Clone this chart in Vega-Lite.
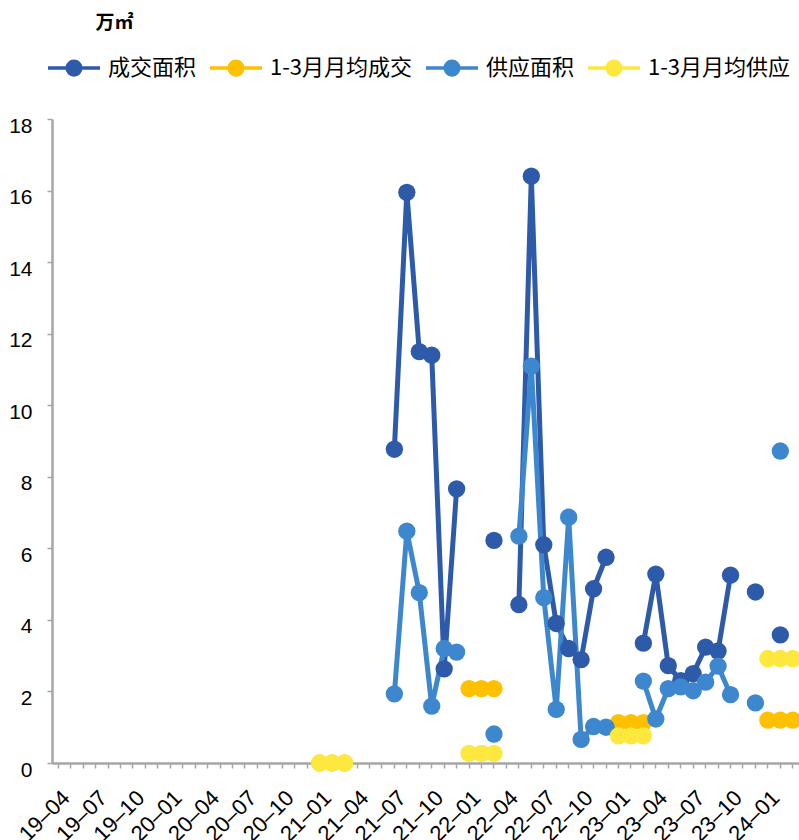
{
  "$schema": "https://vega.github.io/schema/vega-lite/v6.json",
  "width": 747,
  "height": 644,
  "autosize": {"type": "none"},
  "padding": {"left": 52, "top": 119, "right": 0, "bottom": 77},
  "background": "white",
  "config": {"view": {"stroke": null}},
  "data": {"values": [
    {"m": "21-07", "s": "成交面积", "v": 8.77},
    {"m": "21-08", "s": "成交面积", "v": 15.95},
    {"m": "21-09", "s": "成交面积", "v": 11.5},
    {"m": "21-10", "s": "成交面积", "v": 11.4},
    {"m": "21-11", "s": "成交面积", "v": 2.63},
    {"m": "21-12", "s": "成交面积", "v": 7.66},
    {"m": "22-01", "s": "成交面积", "v": null},
    {"m": "22-03", "s": "成交面积", "v": 6.22},
    {"m": "22-04", "s": "成交面积", "v": null},
    {"m": "22-05", "s": "成交面积", "v": 4.43},
    {"m": "22-06", "s": "成交面积", "v": 16.4},
    {"m": "22-07", "s": "成交面积", "v": 6.1},
    {"m": "22-08", "s": "成交面积", "v": 3.9},
    {"m": "22-09", "s": "成交面积", "v": 3.2},
    {"m": "22-10", "s": "成交面积", "v": 2.89},
    {"m": "22-11", "s": "成交面积", "v": 4.87},
    {"m": "22-12", "s": "成交面积", "v": 5.75},
    {"m": "23-01", "s": "成交面积", "v": null},
    {"m": "23-03", "s": "成交面积", "v": 3.35},
    {"m": "23-04", "s": "成交面积", "v": 5.28},
    {"m": "23-05", "s": "成交面积", "v": 2.72},
    {"m": "23-06", "s": "成交面积", "v": 2.3},
    {"m": "23-07", "s": "成交面积", "v": 2.5},
    {"m": "23-08", "s": "成交面积", "v": 3.24},
    {"m": "23-09", "s": "成交面积", "v": 3.13},
    {"m": "23-10", "s": "成交面积", "v": 5.25},
    {"m": "23-11", "s": "成交面积", "v": null},
    {"m": "23-12", "s": "成交面积", "v": 4.78},
    {"m": "24-01", "s": "成交面积", "v": null},
    {"m": "24-02", "s": "成交面积", "v": 3.58},
    {"m": "21-01", "s": "1-3月月均成交", "v": 0},
    {"m": "21-02", "s": "1-3月月均成交", "v": 0},
    {"m": "21-03", "s": "1-3月月均成交", "v": 0},
    {"m": "21-04", "s": "1-3月月均成交", "v": null},
    {"m": "22-01", "s": "1-3月月均成交", "v": 2.08},
    {"m": "22-02", "s": "1-3月月均成交", "v": 2.08},
    {"m": "22-03", "s": "1-3月月均成交", "v": 2.08},
    {"m": "22-04", "s": "1-3月月均成交", "v": null},
    {"m": "23-01", "s": "1-3月月均成交", "v": 1.13},
    {"m": "23-02", "s": "1-3月月均成交", "v": 1.13},
    {"m": "23-03", "s": "1-3月月均成交", "v": 1.13},
    {"m": "23-04", "s": "1-3月月均成交", "v": null},
    {"m": "24-01", "s": "1-3月月均成交", "v": 1.2},
    {"m": "24-02", "s": "1-3月月均成交", "v": 1.2},
    {"m": "24-03", "s": "1-3月月均成交", "v": 1.2},
    {"m": "21-07", "s": "供应面积", "v": 1.93},
    {"m": "21-08", "s": "供应面积", "v": 6.48},
    {"m": "21-09", "s": "供应面积", "v": 4.76},
    {"m": "21-10", "s": "供应面积", "v": 1.59},
    {"m": "21-11", "s": "供应面积", "v": 3.2},
    {"m": "21-12", "s": "供应面积", "v": 3.1},
    {"m": "22-01", "s": "供应面积", "v": null},
    {"m": "22-03", "s": "供应面积", "v": 0.81},
    {"m": "22-04", "s": "供应面积", "v": null},
    {"m": "22-05", "s": "供应面积", "v": 6.34},
    {"m": "22-06", "s": "供应面积", "v": 11.09},
    {"m": "22-07", "s": "供应面积", "v": 4.62},
    {"m": "22-08", "s": "供应面积", "v": 1.5},
    {"m": "22-09", "s": "供应面积", "v": 6.87},
    {"m": "22-10", "s": "供应面积", "v": 0.66},
    {"m": "22-11", "s": "供应面积", "v": 1.02},
    {"m": "22-12", "s": "供应面积", "v": 1.0},
    {"m": "23-01", "s": "供应面积", "v": null},
    {"m": "23-03", "s": "供应面积", "v": 2.29},
    {"m": "23-04", "s": "供应面积", "v": 1.23},
    {"m": "23-05", "s": "供应面积", "v": 2.08},
    {"m": "23-06", "s": "供应面积", "v": 2.13},
    {"m": "23-07", "s": "供应面积", "v": 2.02},
    {"m": "23-08", "s": "供应面积", "v": 2.26},
    {"m": "23-09", "s": "供应面积", "v": 2.71},
    {"m": "23-10", "s": "供应面积", "v": 1.91},
    {"m": "23-11", "s": "供应面积", "v": null},
    {"m": "23-12", "s": "供应面积", "v": 1.68},
    {"m": "24-01", "s": "供应面积", "v": null},
    {"m": "24-02", "s": "供应面积", "v": 8.72},
    {"m": "21-01", "s": "1-3月月均供应", "v": 0},
    {"m": "21-02", "s": "1-3月月均供应", "v": 0},
    {"m": "21-03", "s": "1-3月月均供应", "v": 0},
    {"m": "21-04", "s": "1-3月月均供应", "v": null},
    {"m": "22-01", "s": "1-3月月均供应", "v": 0.27},
    {"m": "22-02", "s": "1-3月月均供应", "v": 0.27},
    {"m": "22-03", "s": "1-3月月均供应", "v": 0.27},
    {"m": "22-04", "s": "1-3月月均供应", "v": null},
    {"m": "23-01", "s": "1-3月月均供应", "v": 0.76},
    {"m": "23-02", "s": "1-3月月均供应", "v": 0.76},
    {"m": "23-03", "s": "1-3月月均供应", "v": 0.76},
    {"m": "23-04", "s": "1-3月月均供应", "v": null},
    {"m": "24-01", "s": "1-3月月均供应", "v": 2.92},
    {"m": "24-02", "s": "1-3月月均供应", "v": 2.92},
    {"m": "24-03", "s": "1-3月月均供应", "v": 2.92}
  ]},
  "encoding": {
    "x": {
      "field": "m", "type": "ordinal",
      "scale": {"type": "band", "paddingInner": 0, "paddingOuter": 0,
        "domain": ["19-04","19-05","19-06","19-07","19-08","19-09","19-10","19-11","19-12",
                   "20-01","20-02","20-03","20-04","20-05","20-06","20-07","20-08","20-09","20-10","20-11","20-12",
                   "21-01","21-02","21-03","21-04","21-05","21-06","21-07","21-08","21-09","21-10","21-11","21-12",
                   "22-01","22-02","22-03","22-04","22-05","22-06","22-07","22-08","22-09","22-10","22-11","22-12",
                   "23-01","23-02","23-03","23-04","23-05","23-06","23-07","23-08","23-09","23-10","23-11","23-12",
                   "24-01","24-02","24-03"]},
      "axis": {
        "title": null,
        "labelExpr": "indexof(['01','04','07','10'], slice(datum.value, 3)) >= 0 ? replace(datum.value, '-', '–') : ''",
        "labelAngle": -45, "labelAlign": "right", "labelBaseline": "middle",
        "labelFont": "Liberation Sans", "labelFontSize": 22, "labelColor": "black",
        "labelPadding": 26, "labelOffset": 8, "labelOverlap": false, "labelBound": false,
        "tickSize": 5, "tickColor": "#A6A6A6", "tickWidth": 1.5,
        "domainColor": "#A6A6A6", "domainWidth": 2.5, "grid": false
      }
    },
    "y": {
      "field": "v", "type": "quantitative",
      "scale": {"domain": [0, 18], "nice": false, "zero": true},
      "axis": {
        "title": "万㎡", "titleAngle": 0, "titleX": 43, "titleY": -97,
        "titleAlign": "left", "titleBaseline": "middle",
        "titleFont": "Noto Sans CJK SC", "titleFontSize": 19, "titleFontWeight": "bold", "titleColor": "black",
        "values": [0, 2, 4, 6, 8, 10, 12, 14, 16, 18],
        "labelFont": "Liberation Sans", "labelFontSize": 21, "labelColor": "black",
        "labelPadding": 15, "labelOffset": 7,
        "tickSize": 5, "tickColor": "#A6A6A6", "tickWidth": 1.5,
        "domainColor": "#A6A6A6", "domainWidth": 2.5, "grid": false
      }
    },
    "color": {
      "field": "s", "type": "nominal",
      "scale": {"domain": ["成交面积", "1-3月月均成交", "供应面积", "1-3月月均供应"],
                "range": ["#2E5AAA", "#FFC000", "#3D87CF", "#FFE83D"]},
      "legend": {
        "orient": "none", "legendX": -6, "legendY": -79,
        "direction": "horizontal", "columns": 4, "title": null, "padding": 0,
        "symbolType": "M-1,0H1M0.26,0A0.26,0.26,0,1,1,-0.26,0A0.26,0.26,0,1,1,0.26,0Z",
        "symbolSize": 2704, "symbolStrokeWidth": 3.5,
        "labelFont": "Noto Sans CJK SC", "labelFontSize": 22, "labelColor": "black",
        "labelOffset": 6, "columnPadding": 6, "labelLimit": 300,
        "encode": {"symbols": {"update": {
          "fill": {"scale": "color", "field": "value"},
          "stroke": {"scale": "color", "field": "value"},
          "strokeWidth": {"value": 3.5},
          "opacity": {"value": 1}
        }}}
      }
    }
  },
  "layer": [
    {"mark": {"type": "line", "strokeWidth": 5}},
    {"mark": {"type": "point", "filled": true, "size": 300, "opacity": 1, "shape": "circle"}}
  ]
}
